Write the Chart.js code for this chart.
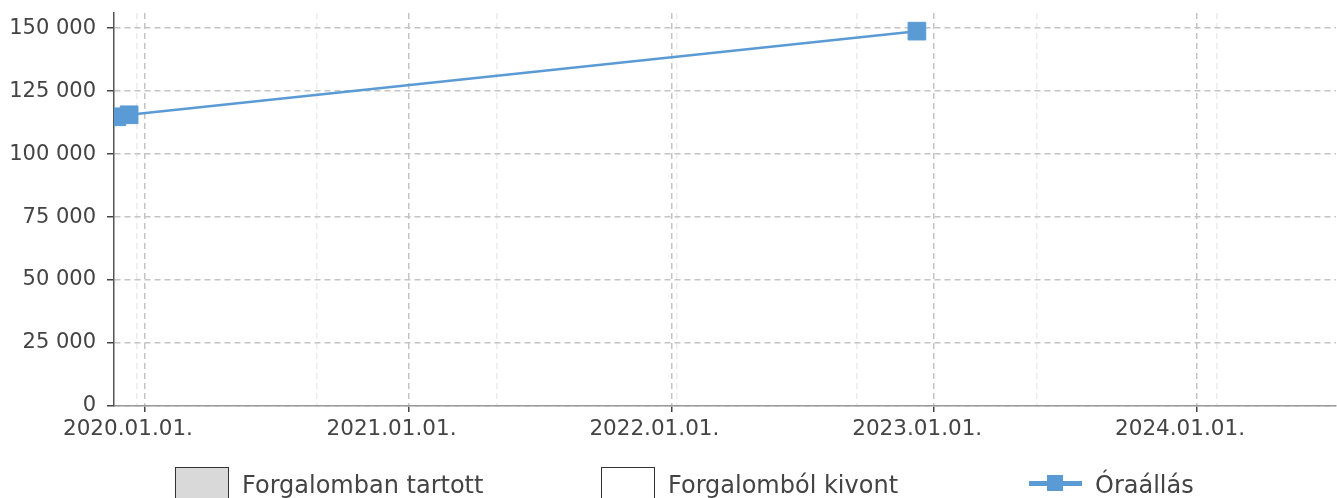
<!DOCTYPE html>
<html>
<head>
<meta charset="utf-8">
<script src="https://cdn.jsdelivr.net/npm/chart.js@4.4.1/dist/chart.umd.min.js"></script>
<style>
  html, body { margin: 0; padding: 0; background: #fff; }
  #wrap { position: relative; width: 1337px; height: 498px; overflow: hidden; font-family: "DejaVu Sans", sans-serif; }
  #chart { position: absolute; left: 0; top: 0; }
  .lg { position: absolute; color: #444; font-size: 24px; line-height: 24px; white-space: nowrap; }
  .box { position: absolute; width: 52px; height: 34px; border: 1px solid #333; }
  .ln { position: absolute; height: 5px; background: #5b9bd5; }
  .mk { position: absolute; width: 16px; height: 16px; background: #5b9bd5; }
</style>
</head>
<body>
<div id="wrap">
  <canvas id="chart" width="1337" height="498"></canvas>
  <div class="box" style="left:175px; top:467px; background:#d9d9d9;"></div>
  <div class="lg" style="left:242px; top:473px;">Forgalomban tartott</div>
  <div class="box" style="left:601px; top:467px; background:#fff;"></div>
  <div class="lg" style="left:668px; top:473px;">Forgalomból kivont</div>
  <div class="ln" style="left:1029px; top:481px; width:53px;"></div>
  <div class="mk" style="left:1047px; top:475px;"></div>
  <div class="lg" style="left:1095px; top:473px;">Óraállás</div>
</div>
<script>
'use strict';

// readings (date, odometer km)
let readingDates = ['2019-11-23', '2019-12-10', '2022-12-08'];
let readingValues = [114800, 115600, 148800];

// axis
let yearTicks = ['2020-01-01', '2021-01-01', '2022-01-01', '2023-01-01', '2024-01-01'];
let minorTicks = ['2019-12-21', '2020-08-26', '2021-05-03', '2022-01-08', '2022-09-15', '2023-05-23', '2024-01-28'];
let xMin = '2019-11-19';
let xMax = '2024-07-12';
let yMax = 156000;
let yStep = 25000;

function toMs(s){
  let p = s.split('-');
  return Date.UTC(+p[0], +p[1] - 1, +p[2]);
}
function fmtDate(ms){
  let d = new Date(ms);
  let m = String(d.getUTCMonth() + 1).padStart(2, '0');
  let day = String(d.getUTCDate()).padStart(2, '0');
  return d.getUTCFullYear() + '.' + m + '.' + day + '.';
}
function fmtNum(v){
  return String(v).replace(/\B(?=(\d{3})+(?!\d))/g, ' ');
}
// drop the label overhang padding so the plot area keeps its size
function noPad(axis){
  axis.paddingTop = 0;
  axis.paddingBottom = 0;
  axis.paddingLeft = 0;
  axis.paddingRight = 0;
}

let points = [];
for(let i = 0; i < readingDates.length; i++){
  points.push({x: toMs(readingDates[i]), y: readingValues[i]});
}

const ctx = document.getElementById('chart');
const chartConfig = {
  type: 'line',
  data: {
    datasets: [{
      label: 'Óraállás',
      data: points,
      borderColor: '#5b9bd5',
      backgroundColor: '#5b9bd5',
      borderWidth: 2.5,
      pointStyle: 'rect',
      pointRadius: 12.5,
      pointBorderWidth: 1,
      tension: 0
    }]
  },
  options: {
    responsive: false,
    animation: false,
    layout: { autoPadding: false, padding: { top: 13, right: 1, left: 0, bottom: 0 } },
    plugins: { legend: { display: false }, tooltip: { enabled: false } },
    scales: {
      x: {
        type: 'linear',
        min: toMs(xMin),
        max: toMs(xMax),
        afterBuildTicks: function(axis){
          axis.ticks = yearTicks.map(function(t){ return {value: toMs(t)}; });
        },
        afterFit: function(axis){ axis.height = 92; noPad(axis); },
        ticks: {
          callback: function(v){ return fmtDate(v); },
          color: '#444',
          font: { family: 'DejaVu Sans', size: 21.5 },
          padding: 5,
          labelOffset: -17,
          maxRotation: 0,
          autoSkip: false
        },
        grid: {
          color: '#c4c4c4',
          lineWidth: 1.5,
          tickColor: '#444',
          tickLength: 6,
          tickBorderDash: [],
          tickWidth: 1.5
        },
        border: { color: '#999', width: 1.5, dash: [6, 4] }
      },
      xMinor: {
        type: 'linear',
        position: 'bottom',
        min: toMs(xMin),
        max: toMs(xMax),
        afterBuildTicks: function(axis){
          axis.ticks = minorTicks.map(function(t){ return {value: toMs(t)}; });
        },
        afterFit: function(axis){ axis.height = 0; noPad(axis); },
        ticks: { display: false },
        grid: { color: '#ececec', lineWidth: 1.5, drawTicks: false },
        border: { display: false, dash: [6, 4] }
      },
      y: {
        min: 0,
        max: yMax,
        afterBuildTicks: function(axis){
          let t = [];
          for(let v = 0; v <= yMax; v += yStep){ t.push({value: v}); }
          axis.ticks = t;
        },
        afterFit: function(axis){ axis.width = 114; noPad(axis); },
        ticks: {
          callback: function(v){ return fmtNum(v); },
          color: '#444',
          font: { family: 'DejaVu Sans', size: 21 },
          padding: 11
        },
        grid: {
          color: '#c4c4c4',
          lineWidth: 1.5,
          tickColor: '#444',
          tickLength: 7,
          tickBorderDash: [],
          tickWidth: 1.5
        },
        border: { color: '#555', width: 1.5, dash: [6, 4] }
      }
    }
  }
};
new Chart(ctx, chartConfig);
</script>
</body>
</html>
